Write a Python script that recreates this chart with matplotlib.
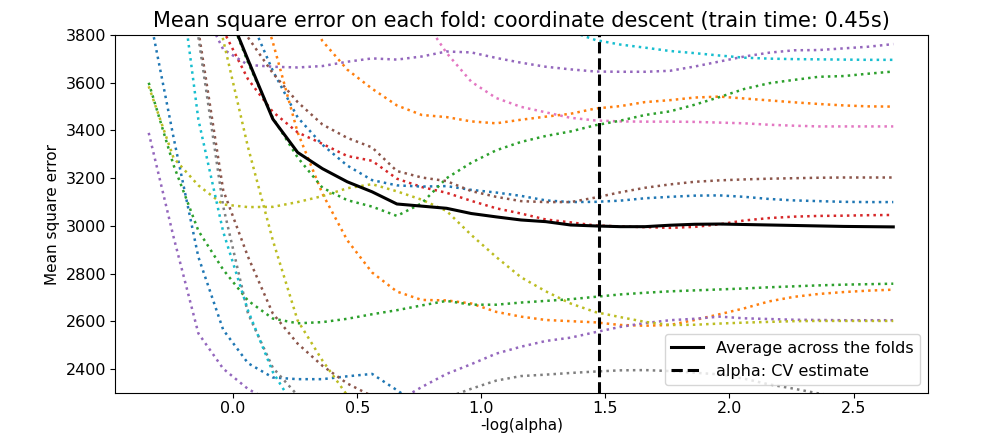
import matplotlib
matplotlib.use("Agg")
import matplotlib.pyplot as plt
import numpy as np

nan = np.nan

# -log(alpha) grid shared by every fold
neg_log_alpha = [-0.34, -0.24, -0.14, -0.04, 0.06, 0.16, 0.26, 0.36, 0.46, 0.56,
                 0.66, 0.76, 0.86, 0.96, 1.06, 1.16, 1.26, 1.36, 1.46, 1.56,
                 1.66, 1.76, 1.86, 1.96, 2.06, 2.16, 2.26, 2.36, 2.46, 2.56, 2.66]

# mean square error of each fold (nan = never visible)
mse_blue_a = [3900, 3371, 2870, 2565, 2425, 2365, 2358, 2358, 2370, 2380, 2312, 2240,
              nan, nan, nan, nan, nan, nan, nan, nan, nan, nan, nan, nan, nan, nan,
              nan, nan, nan, nan, nan]
mse_blue_b = [nan, nan, nan, nan, 3890, 3650, 3455, 3340, 3253, 3192, 3170, 3165, 3167,
              3151, 3140, 3126, 3107, 3100, 3101, 3106, 3116, 3122, 3127, 3128, 3122,
              3113, 3107, 3104, 3101, 3100, 3100]
mse_orange_a = [nan, nan, nan, nan, 4100, 3770, 3392, 3135, 2940, 2805, 2725, 2690, 2688,
                2675, 2640, 2620, 2606, 2601, 2596, 2585, 2582, 2585, 2606, 2630, 2655,
                2684, 2703, 2715, 2723, 2729, 2733]
mse_orange_b = [nan, nan, nan, nan, nan, nan, 3950, 3775, 3655, 3575, 3505, 3465, 3456,
                3438, 3430, 3445, 3458, 3470, 3492, 3502, 3519, 3527, 3538, 3542, 3534,
                3526, 3518, 3511, 3505, 3501, 3500]
mse_green_a = [3600, 3255, 2980, 2817, 2687, 2612, 2592, 2597, 2611, 2630, 2647, 2667,
               2686, 2670, 2670, 2679, 2686, 2693, 2703, 2713, 2720, 2726, 2730, 2734,
               2738, 2743, 2747, 2751, 2754, 2756, 2758]
mse_green_b = [nan, nan, nan, 3950, 3685, 3453, 3287, 3160, 3108, 3081, 3042, 3095, 3200,
               3265, 3317, 3352, 3377, 3396, 3422, 3441, 3465, 3480, 3508, 3540, 3574,
               3598, 3612, 3625, 3628, 3638, 3647]
mse_red = [nan, nan, nan, 3820, 3615, 3478, 3392, 3344, 3293, 3273, 3198, 3163, 3139,
           3105, 3074, 3052, 3027, 3015, 3002, 2998, 2995, 2992, 2996, 3007, 3023, 3033,
           3039, 3042, 3043, 3045, 3046]
mse_purple_a = [3390, 2954, 2550, 2402, 2317, 2260, 2220, 2200, 2200, 2220, 2265, 2325,
                2380, 2421, 2465, 2494, 2518, 2532, 2555, 2577, 2593, 2605, 2611, 2620,
                2613, 2610, 2607, 2606, 2605, 2605, 2605]
mse_purple_b = [nan, nan, 3950, 3740, 3675, 3667, 3664, 3670, 3688, 3702, 3697, 3710,
                3731, 3727, 3704, 3684, 3667, 3656, 3647, 3646, 3646, 3650, 3668, 3689,
                3710, 3726, 3736, 3737, 3744, 3751, 3762]
mse_brown_a = [nan, 4300, 3820, 3150, 2871, 2633, 2507, 2414, 2340, 2287, 2250, nan, nan,
               nan, nan, nan, nan, nan, nan, nan, nan, nan, nan, nan, nan, nan, nan, nan,
               nan, nan, nan]
mse_brown_b = [nan, nan, nan, nan, 3790, 3640, 3519, 3425, 3369, 3329, 3230, 3203, 3188,
               3146, 3122, 3104, 3100, 3100, 3119, 3141, 3160, 3174, 3185, 3191, 3195,
               3198, 3200, 3202, 3203, 3203, 3203]
mse_pink = [nan, nan, nan, nan, nan, nan, nan, nan, nan, nan, nan, 3880, 3725, 3604,
            3536, 3499, 3476, 3453, 3442, 3438, 3437, 3437, 3436, 3433, 3430, 3424, 3420,
            3417, 3417, 3417, 3417]
mse_gray = [nan, 4150, 3792, 3082, 2633, 2406, 2290, 2250, 2220, 2205, 2215, 2240, 2280,
            2318, 2352, 2371, 2377, 2384, 2390, 2395, 2396, 2392, 2385, 2378, 2360, 2336,
            2318, 2298, 2282, 2270, 2260]
mse_olive_a = [3585, 3285, 3170, 3090, 3079, 3080, 3100, 3125, 3158, 3175, 3145, 3110,
               3063, 2962, 2870, 2785, 2726, 2675, 2639, 2618, 2598, 2585, 2586, 2591,
               2595, 2598, 2601, 2602, 2602, 2602, 2602]
mse_olive_b = [nan, nan, 4250, 3780, 3330, 2940, 2604, 2436, 2290, 2200, nan, nan, nan,
               nan, nan, nan, nan, nan, nan, nan, nan, nan, nan, nan, nan, nan, nan, nan,
               nan, nan, nan]
mse_cyan_a = [nan, 4250, 3446, 2976, 2646, 2388, 2220, nan, nan, nan, nan, nan, nan, nan,
              nan, nan, nan, nan, nan, nan, nan, nan, nan, nan, nan, nan, nan, nan, nan,
              nan, nan]
mse_cyan_b = [nan, nan, nan, nan, nan, nan, nan, nan, nan, nan, nan, nan, nan, nan, nan,
              nan, 3880, 3815, 3779, 3760, 3747, 3733, 3724, 3714, 3705, 3701, 3699, 3698,
              3697, 3696, 3696]

# average across the folds
mse_mean = [nan, nan, nan, 3950, 3696, 3448, 3308, 3240, 3185, 3143, 3092, 3083, 3074,
            3052, 3038, 3025, 3018, 3004, 3000, 2997, 2997, 3003, 3007, 3008, 3006, 3004,
            3002, 3000, 2998, 2997, 2996]

alpha_cv = 1.476

folds = [
    ("#1f77b4", mse_blue_a), ("#ff7f0e", mse_orange_a), ("#2ca02c", mse_green_a),
    ("#d62728", mse_red), ("#9467bd", mse_purple_a), ("#8c564b", mse_brown_a),
    ("#e377c2", mse_pink), ("#7f7f7f", mse_gray), ("#bcbd22", mse_olive_a),
    ("#17becf", mse_cyan_a),
    ("#1f77b4", mse_blue_b), ("#ff7f0e", mse_orange_b), ("#2ca02c", mse_green_b),
    ("#9467bd", mse_purple_b), ("#8c564b", mse_brown_b), ("#bcbd22", mse_olive_b),
    ("#17becf", mse_cyan_b),
]

fig = plt.figure(figsize=(10.05, 4.36), dpi=100)
ax = fig.add_subplot(111)
fig.subplots_adjust(left=0.1144, right=0.9234, top=0.9197, bottom=0.0986)

for col, vals in folds:
    ax.plot(neg_log_alpha, vals, ":", color=col, linewidth=1.8)

ax.plot(neg_log_alpha, mse_mean, "k", linewidth=2.2, label="Average across the folds")
ax.axvline(alpha_cv, linestyle="--", color="k", linewidth=2.2, label="alpha: CV estimate")

ax.set_xlim(-0.476, 2.80)
ax.set_ylim(2300, 3800)
ax.set_yticks([2400, 2600, 2800, 3000, 3200, 3400, 3600, 3800])
ax.set_xticks([0.0, 0.5, 1.0, 1.5, 2.0, 2.5])
ax.tick_params(labelsize=11.5, pad=2.5)

ax.legend(loc="lower right", fontsize=11.5)
ax.set_xlabel("-log(alpha)", fontsize=11, labelpad=1)
ax.set_ylabel("Mean square error", fontsize=11)
ax.set_title("Mean square error on each fold: coordinate descent (train time: 0.45s)",
             fontsize=15)

fig.savefig("out.png", dpi=100)
